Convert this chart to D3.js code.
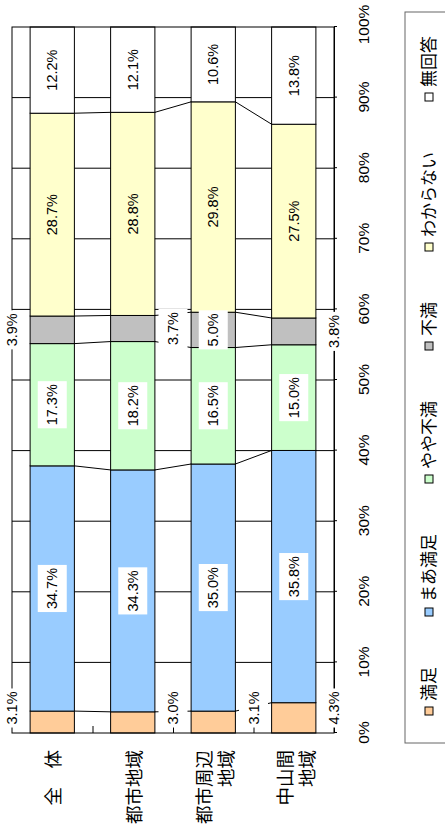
<!DOCTYPE html>
<html><head><meta charset="utf-8">
<script src="https://cdn.jsdelivr.net/npm/d3@7/dist/d3.min.js"></script>
<style>body{margin:0;background:#fff}svg{display:block}</style>
</head><body>
<svg id="chart" width="445" height="829"></svg>
<script>
// ---- data ----
const categories = ["全　体", "都市地域", "都市周辺\n地域", "中山間\n地域"];
const seriesNames = ["満足", "まあ満足", "やや不満", "不満", "わからない", "無回答"];
const seriesColors = ["#FFCC99", "#99CCFF", "#CCFFCC", "#C0C0C0", "#FFFFCC", "#FFFFFF"];
const satisfied = [3.1, 3.0, 3.1, 4.3];
const fairlySatisfied = [34.7, 34.3, 35.0, 35.8];
const slightlyDissatisfied = [17.3, 18.2, 16.5, 15.0];
const dissatisfied = [3.9, 3.7, 5.0, 3.8];
const dontKnow = [28.7, 28.8, 29.8, 27.5];
const noAnswer = [12.2, 12.1, 10.6, 13.8];
const tickValues = [0, 10, 20, 30, 40, 50, 60, 70, 80, 90, 100];
const smallLabelSide = [-1, 1, 1, 1];

const seriesValues = [satisfied, fairlySatisfied, slightlyDissatisfied, dissatisfied, dontKnow, noAnswer];

// ---- layout (chart drawn as horizontal bars, then rotated -90deg) ----
const W = 706, H = 322;
const svg = d3.select("#chart");
svg.append("rect").attr("width", 445).attr("height", 829).attr("fill", "#fff");
const g = svg.append("g").attr("transform", "translate(12,733) rotate(-90)");

const x = d3.scaleLinear().domain([0, 100]).range([0, W]);
const y = d3.scaleBand().domain(d3.range(categories.length)).range([0, H])
  .paddingInner(0.45).paddingOuter(0.225);
const bw = y.bandwidth(), step = y.step();

// cumulative (normalized to 100%)
const cum = categories.map((c, i) => {
  const vals = seriesValues.map(s => s[i]);
  const tot = d3.sum(vals);
  const out = [0];
  let acc = 0;
  vals.forEach(v => { acc += v; out.push(acc / tot * 100); });
  return out;
});

const latin = "'Liberation Sans', Arial, sans-serif";
const cjk = "'Noto Sans CJK JP', 'Noto Sans CJK SC', sans-serif";

// gridlines
g.append("g").selectAll("line").data(tickValues.filter(t => t > 0 && t < 100)).join("line")
  .attr("x1", d => x(d)).attr("x2", d => x(d)).attr("y1", 0).attr("y2", H)
  .attr("stroke", "#000").attr("stroke-width", 1);

// bars
categories.forEach((c, i) => {
  seriesValues.forEach((s, k) => {
    g.append("rect")
      .attr("x", x(cum[i][k])).attr("width", x(cum[i][k + 1]) - x(cum[i][k]))
      .attr("y", y(i)).attr("height", bw)
      .attr("fill", seriesColors[k]).attr("stroke", "#000").attr("stroke-width", 1);
  });
});

// series lines
for (let i = 0; i < categories.length - 1; i++) {
  for (let k = 1; k < seriesValues.length; k++) {
    g.append("line")
      .attr("x1", x(cum[i][k])).attr("y1", y(i) + bw)
      .attr("x2", x(cum[i + 1][k])).attr("y2", y(i + 1))
      .attr("stroke", "#000").attr("stroke-width", 1);
  }
}

// frame
g.append("rect").attr("x", 0).attr("y", 0).attr("width", W).attr("height", H)
  .attr("fill", "none").attr("stroke", "#000").attr("stroke-width", 1);
// category ticks (inward)
for (let k = 1; k < categories.length; k++) {
  g.append("line").attr("x1", 0).attr("x2", 7).attr("y1", k * step + 0.5).attr("y2", k * step + 0.5)
    .attr("stroke", "#000");
}

// value axis
const ax = g.append("g").attr("transform", `translate(0,${H})`)
  .call(d3.axisBottom(x).tickValues(tickValues).tickSize(3).tickFormat(d => d + "%"));
ax.select(".domain").attr("stroke", "#000");
ax.selectAll(".tick line").attr("stroke", "#000");
ax.selectAll(".tick text").attr("y", 30).attr("dy", "0.35em")
  .attr("font-family", latin).attr("font-size", "15.5px").attr("fill", "#000");
ax.selectAll(".tick text").filter(d => d === 100).attr("x", 2);

// category labels
categories.forEach((c, i) => {
  const lines = c.split("\n");
  const cy = y(i) + bw / 2;
  const lh = 22;
  lines.forEach((ln, j) => {
    g.append("text").text(ln)
      .attr("x", -17).attr("y", cy + (j - (lines.length - 1) / 2) * lh + (lines.length > 1 ? 1 : 0))
      .attr("text-anchor", "end").attr("dominant-baseline", "central")
      .attr("font-family", cjk).attr("font-size", "18.5px").attr("fill", "#000");
  });
});

// data labels
const labelLayer = g.append("g");
categories.forEach((c, i) => {
  seriesValues.forEach((s, k) => {
    const v = s[i];
    const mid = (cum[i][k] + cum[i][k + 1]) / 2;
    const small = v < 4.5;
    let ux = x(mid), vy = y(i) + bw / 2;
    if (small) {
      vy = y(i) + bw / 2 + smallLabelSide[i] * step / 2;
      ux = Math.max(ux, 25);
    }
    const grp = labelLayer.append("g");
    const t = grp.append("text").text(v.toFixed(1) + "%")
      .attr("x", ux).attr("y", vy)
      .attr("text-anchor", "middle").attr("dominant-baseline", "central")
      .attr("font-family", latin).attr("font-size", "14.5px").attr("fill", "#000");
    const needsBox = small || (k >= 1 && k <= 3);
    if (needsBox) {
      const len = t.node().getComputedTextLength();
      grp.insert("rect", "text")
        .attr("x", ux - len / 2 - 3).attr("width", len + 6)
        .attr("y", vy - 14.5).attr("height", 29)
        .attr("fill", "#fff");
    }
  });
});

// legend
const lg = g.append("g");
lg.append("rect").attr("x", -10).attr("y", 393).attr("width", 731).attr("height", 60)
  .attr("fill", "#fff").attr("stroke", "#666").attr("stroke-width", 1);
let cursor = 18;
seriesNames.forEach((n, k) => {
  lg.append("rect").attr("x", cursor).attr("y", 413).attr("width", 8).attr("height", 8)
    .attr("fill", seriesColors[k]).attr("stroke", "#000").attr("stroke-width", 1);
  const t = lg.append("text").text(n).attr("x", cursor + 14).attr("y", 415.5)
    .attr("dominant-baseline", "central")
    .attr("font-family", cjk).attr("font-size", "17px").attr("fill", "#000");
  cursor = cursor + 14 + t.node().getComputedTextLength() + 51;
});
</script>
</body></html>
